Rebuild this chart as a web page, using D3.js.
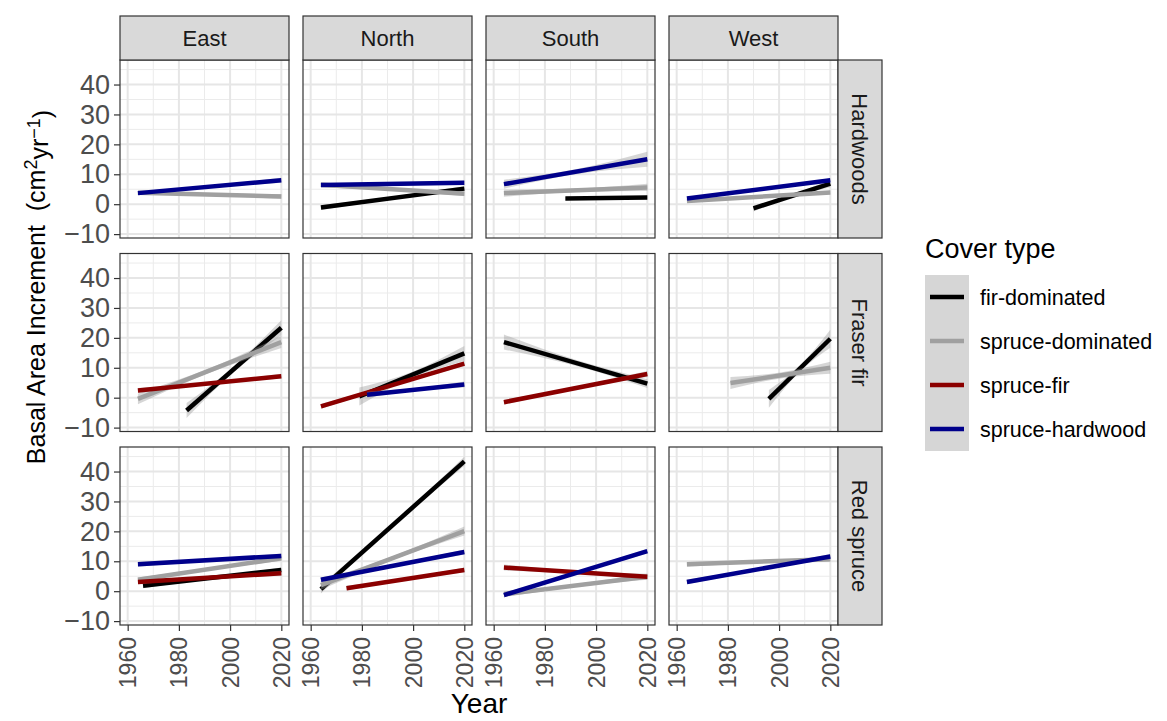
<!DOCTYPE html>
<meta charset="utf-8">
<style>
    body { margin: 0; background: #fff; }
    text { font-family: "Liberation Sans", Arial, sans-serif; }
</style>
<body>
<div id="chart"></div>
<script src="https://d3js.org/d3.v7.min.js"></script>
<script>
    // facets
    var regions = ['East', 'North', 'South', 'West']
    var species = ['Hardwoods', 'Fraser fir', 'Red spruce']
    var coverTypes = ['fir-dominated', 'spruce-dominated', 'spruce-fir', 'spruce-hardwood']
    var coverColors = ['#000000', '#a0a0a0', '#8b0000', '#00008b']
    var xTicks = [1960, 1980, 2000, 2020]
    var xMinor = [1970, 1990, 2010]
    var yTicks = [-10, 0, 10, 20, 30, 40]
    var yMinor = [-5, 5, 15, 25, 35, 45]

    // fitted lines: region, cover, year start, year end, BAI start, BAI end, se start, se mid, se end
    var fitsHardwoods = [
        ['East', 'spruce-dominated', 1964, 2020, 3.8, 2.6, 0.6, 0.4, 0.8],
        ['East', 'spruce-hardwood', 1964, 2020, 3.7, 8.0, 0.6, 0.4, 0.8],
        ['North', 'fir-dominated', 1964, 2020, -1.1, 5.2, 0.8, 0.5, 0.8],
        ['North', 'spruce-dominated', 1964, 2020, 6.5, 3.5, 0.8, 0.5, 0.8],
        ['North', 'spruce-hardwood', 1964, 2020, 6.4, 7.2, 0.6, 0.4, 0.6],
        ['South', 'fir-dominated', 1988, 2020, 1.9, 2.2, 0.6, 0.4, 0.6],
        ['South', 'spruce-dominated', 1964, 2020, 3.7, 5.6, 1.2, 0.6, 1.2],
        ['South', 'spruce-hardwood', 1964, 2020, 6.7, 15.0, 1.5, 0.8, 2.5],
        ['West', 'fir-dominated', 1990, 2020, -1.4, 6.9, 1.0, 0.5, 1.2],
        ['West', 'spruce-dominated', 1964, 2020, 1.1, 3.9, 0.6, 0.4, 0.6],
        ['West', 'spruce-hardwood', 1964, 2020, 1.9, 8.0, 0.6, 0.4, 0.6]
    ]
    var fitsFraserFir = [
        ['East', 'fir-dominated', 1983, 2020, -4.3, 23.4, 2.5, 1.0, 2.5],
        ['East', 'spruce-dominated', 1964, 2020, -0.4, 18.6, 1.8, 0.8, 2.0],
        ['East', 'spruce-fir', 1964, 2020, 2.4, 7.2, 0.8, 0.4, 0.8],
        ['North', 'fir-dominated', 1979, 2020, 0.4, 14.8, 3.0, 1.0, 2.5],
        ['North', 'spruce-fir', 1964, 2020, -2.9, 11.4, 0.8, 0.4, 0.8],
        ['North', 'spruce-hardwood', 1982, 2020, 1.0, 4.4, 1.0, 0.5, 1.0],
        ['South', 'fir-dominated', 1964, 2020, 18.6, 4.7, 2.5, 1.0, 1.5],
        ['South', 'spruce-fir', 1964, 2020, -1.5, 7.9, 0.8, 0.5, 1.0],
        ['West', 'fir-dominated', 1996, 2020, -0.4, 19.7, 3.0, 1.0, 3.0],
        ['West', 'spruce-dominated', 1981, 2020, 4.9, 10.0, 2.0, 1.0, 2.0]
    ]
    var fitsRedSpruce = [
        ['East', 'fir-dominated', 1966, 2020, 1.8, 7.1, 0.8, 0.4, 0.8],
        ['East', 'spruce-dominated', 1964, 2020, 3.8, 11.0, 0.8, 0.4, 0.8],
        ['East', 'spruce-fir', 1964, 2020, 3.1, 6.0, 0.8, 0.4, 0.8],
        ['East', 'spruce-hardwood', 1964, 2020, 9.0, 11.8, 0.8, 0.4, 0.8],
        ['North', 'fir-dominated', 1964, 2020, 0.7, 43.4, 1.5, 0.6, 1.5],
        ['North', 'spruce-dominated', 1964, 2020, 2.0, 20.1, 1.5, 0.6, 1.5],
        ['North', 'spruce-fir', 1974, 2020, 1.0, 7.1, 0.8, 0.4, 0.8],
        ['North', 'spruce-hardwood', 1964, 2020, 3.8, 13.1, 0.8, 0.4, 0.8],
        ['South', 'spruce-dominated', 1964, 2020, -1.0, 4.8, 1.0, 0.5, 1.0],
        ['South', 'spruce-fir', 1964, 2020, 7.9, 4.8, 1.0, 0.5, 1.0],
        ['South', 'spruce-hardwood', 1964, 2020, -1.3, 13.4, 0.8, 0.4, 0.8],
        ['West', 'spruce-dominated', 1964, 2020, 9.0, 10.7, 0.8, 0.4, 0.8],
        ['West', 'spruce-hardwood', 1964, 2020, 3.1, 11.6, 0.8, 0.4, 0.8]
    ]
    var fitsBySpecies = [fitsHardwoods, fitsFraserFir, fitsRedSpruce]

    var width = 1167
    var height = 721
    var plotLeft = 120, plotTop = 60
    var panelW = 169, panelH = 178, gapX = 14, gapY = 15.5
    var stripH = 44
    var fontFamily = '"Liberation Sans", Arial, sans-serif'

    var color = d3.scaleOrdinal().domain(coverTypes).range(coverColors)

    var x = d3.scaleLinear().domain([1957, 2023]).range([0, panelW])
    var y = d3.scaleLinear().domain([-11.3, 48.2]).range([panelH, 0])

    var svg = d3.select('#chart')
        .append('svg')
        .attr('width', width)
        .attr('height', height)

    var line = d3.line()
        .x(function (d) { return x(d[0]) })
        .y(function (d) { return y(d[1]) })

    // confidence band: start, middle and end of each fit
    var area = d3.area()
        .x(function (d) { return x(d[0]) })
        .y0(function (d) { return y(d[1] - d[2]) })
        .y1(function (d) { return y(d[1] + d[2]) })
        .curve(d3.curveMonotoneX)

    species.forEach(function (sp, r) {
        regions.forEach(function (reg, c) {
            var g = svg.append('g')
                .attr('transform', 'translate(' + (plotLeft + c * (panelW + gapX)) + ',' + (plotTop + r * (panelH + gapY)) + ')')

            g.append('rect')
                .attr('width', panelW)
                .attr('height', panelH)
                .style('fill', '#fff')

            // minor then major grid
            g.selectAll('.xminor').data(xMinor).enter().append('line')
                .attr('x1', x).attr('x2', x).attr('y1', 0).attr('y2', panelH)
                .style('stroke', '#ebebeb').style('stroke-width', 1)
            g.selectAll('.yminor').data(yMinor).enter().append('line')
                .attr('y1', y).attr('y2', y).attr('x1', 0).attr('x2', panelW)
                .style('stroke', '#ebebeb').style('stroke-width', 1)
            g.selectAll('.xmajor').data(xTicks).enter().append('line')
                .attr('x1', x).attr('x2', x).attr('y1', 0).attr('y2', panelH)
                .style('stroke', '#e6e6e6').style('stroke-width', 2)
            g.selectAll('.ymajor').data(yTicks).enter().append('line')
                .attr('y1', y).attr('y2', y).attr('x1', 0).attr('x2', panelW)
                .style('stroke', '#e6e6e6').style('stroke-width', 2)

            // smooths, in cover type order
            var fits = fitsBySpecies[r].filter(function (f) { return f[0] === reg })
            fits.sort(function (a, b) { return coverTypes.indexOf(a[1]) - coverTypes.indexOf(b[1]) })
            fits.forEach(function (f) {
                var xm = (f[2] + f[3]) / 2
                var ym = (f[4] + f[5]) / 2
                g.append('path')
                    .attr('d', area([[f[2], f[4], f[6]], [xm, ym, f[7]], [f[3], f[5], f[8]]]))
                    .style('fill', '#999').style('opacity', 0.4)
                g.append('path')
                    .attr('d', line([[f[2], f[4]], [f[3], f[5]]]))
                    .style('stroke', color(f[1]))
                    .style('stroke-width', 4.5)
                    .style('fill', 'none')
            })

            g.append('rect')
                .attr('width', panelW)
                .attr('height', panelH)
                .style('fill', 'none')
                .style('stroke', '#333')
                .style('stroke-width', 1.2)

            // top strips
            if (r === 0) {
                g.append('rect')
                    .attr('y', -stripH).attr('width', panelW).attr('height', stripH)
                    .style('fill', '#d9d9d9').style('stroke', '#333').style('stroke-width', 1.2)
                g.append('text')
                    .attr('x', panelW / 2).attr('y', -stripH / 2).attr('dy', '0.35em')
                    .attr('text-anchor', 'middle')
                    .style('font-size', '22px').style('fill', '#1a1a1a')
                    .text(reg)
            }
            // right strips
            if (c === regions.length - 1) {
                g.append('rect')
                    .attr('x', panelW).attr('width', stripH).attr('height', panelH)
                    .style('fill', '#d9d9d9').style('stroke', '#333').style('stroke-width', 1.2)
                g.append('text')
                    .attr('transform', 'translate(' + (panelW + stripH / 2) + ',' + (panelH / 2) + ') rotate(90)')
                    .attr('dy', '0.35em')
                    .attr('text-anchor', 'middle')
                    .style('font-size', '22px').style('fill', '#1a1a1a')
                    .text(sp)
            }
            // y axis
            if (c === 0) {
                var ya = d3.axisLeft(y).tickValues(yTicks).tickSize(6).tickPadding(4)
                var gy = g.append('g').call(ya)
                gy.select('.domain').remove()
                gy.selectAll('line').style('stroke', '#333').style('stroke-width', 1.2)
                gy.selectAll('text').style('font-size', '27px').style('fill', '#4d4d4d')
                    .style('font-family', fontFamily)
            }
            // x axis
            if (r === species.length - 1) {
                var xa = d3.axisBottom(x).tickValues(xTicks).tickFormat(d3.format('d')).tickSize(6).tickPadding(4)
                var gx = g.append('g').attr('transform', 'translate(0,' + panelH + ')').call(xa)
                gx.select('.domain').remove()
                gx.selectAll('line').style('stroke', '#333').style('stroke-width', 1.2)
                gx.selectAll('text')
                    .attr('transform', 'rotate(-90)')
                    .attr('x', -12).attr('y', 0).attr('dy', '0.35em')
                    .attr('text-anchor', 'end')
                    .style('font-size', '23px').style('fill', '#4d4d4d')
                    .style('font-family', fontFamily)
            }
        })
    })

    // axis titles
    var plotRight = plotLeft + 4 * panelW + 3 * gapX
    svg.append('text')
        .attr('x', (plotLeft + plotRight) / 2)
        .attr('y', 713)
        .attr('text-anchor', 'middle')
        .style('font-size', '28px')
        .text('Year')

    var yt = svg.append('text')
        .attr('transform', 'translate(45,287) rotate(-90)')
        .attr('text-anchor', 'middle')
        .style('font-size', '25px')
    yt.append('tspan').text('Basal Area Increment\u00a0\u00a0(cm')
    yt.append('tspan').attr('dy', '-0.45em').style('font-size', '18px').text('2')
    yt.append('tspan').attr('dy', '0.45em').text('yr')
    yt.append('tspan').attr('dy', '-0.45em').style('font-size', '18px').text('\u22121')
    yt.append('tspan').attr('dy', '0.45em').text(')')

    // legend
    var legend = svg.append('g').attr('transform', 'translate(925,0)')
    legend.append('text')
        .attr('x', 0).attr('y', 258)
        .style('font-size', '27px')
        .text('Cover type')
    var keyH = 44
    var keys = legend.selectAll('.key').data(coverTypes).enter().append('g')
        .attr('transform', function (d, i) { return 'translate(0,' + (275 + i * keyH) + ')' })
    keys.append('rect')
        .attr('width', 44).attr('height', keyH)
        .style('fill', '#d6d6d6')
    keys.append('line')
        .attr('x1', 5).attr('x2', 39).attr('y1', keyH / 2).attr('y2', keyH / 2)
        .style('stroke', function (d) { return color(d) })
        .style('stroke-width', 4.5)
    keys.append('text')
        .attr('x', 55).attr('y', keyH / 2).attr('dy', '0.35em')
        .style('font-size', '21.5px')
        .text(function (d) { return d })
</script>
</body>
